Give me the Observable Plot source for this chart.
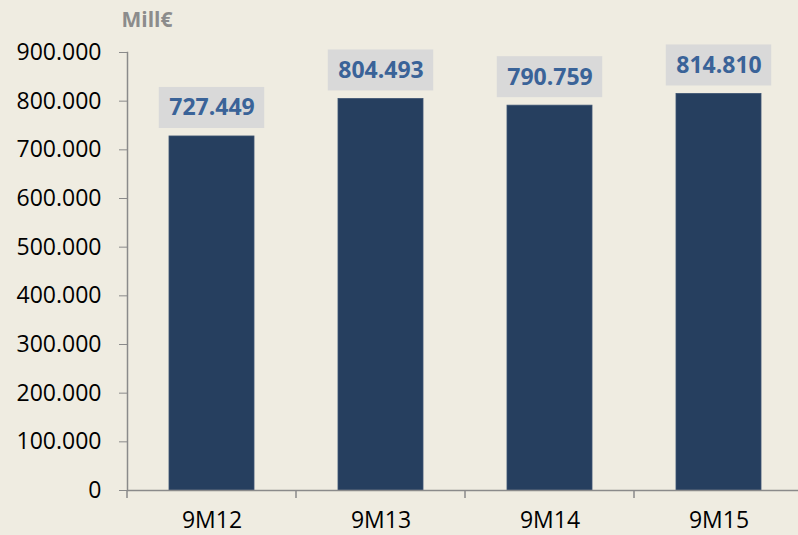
<!DOCTYPE html>
<html>
<head>
<meta charset="utf-8">
<script src="https://cdn.jsdelivr.net/npm/d3@7"></script>
<script src="https://cdn.jsdelivr.net/npm/@observablehq/plot@0.6"></script>
<style>
  html, body { margin: 0; padding: 0; background: #EFECE1; }
  #chart { width: 798px; height: 535px; }
</style>
</head>
<body>
<div id="chart"></div>
<script>
const categories = ["9M12", "9M13", "9M14", "9M15"];
const values = [727449, 804493, 790759, 814810];
const yTicks = [0, 100000, 200000, 300000, 400000, 500000, 600000, 700000, 800000, 900000];
const unitLabel = "Mill€";

const data = categories.map((c, i) => ({cat: c, value: values[i]}));
const locale = d3.formatLocale({decimal: ",", thousands: ".", grouping: [3], currency: ["", "€"]});
const fmt = locale.format(",d");

const AXIS = "#8a8a8a";

function boundaryTicks(index, scales) {
  const sx = scales.x;
  const step = typeof sx.step === "function" ? sx.step() : (sx(categories[1]) - sx(categories[0]));
  const bw = typeof sx.bandwidth === "function" ? sx.bandwidth() : step / 2;
  const y0 = scales.y(0);
  const g = d3.create("svg:g").attr("stroke", AXIS).attr("stroke-width", 1.5);
  const xs = categories.map(c => sx(c) - (step - bw) / 2);
  xs.push(sx(categories[categories.length - 1]) + bw + (step - bw) / 2);
  for (const x of xs) {
    g.append("line").attr("x1", x).attr("x2", x).attr("y1", y0).attr("y2", y0 + 8);
  }
  return g.node();
}

const chart = Plot.plot({
  width: 798,
  height: 535,
  marginLeft: 127,
  marginRight: 0,
  marginTop: 52,
  marginBottom: 45,
  style: {background: "#EFECE1", fontFamily: "'Open Sans', sans-serif", fontSize: "23px", color: "black"},
  x: {domain: categories, range: [127, 803], paddingInner: 0.5, paddingOuter: 0.25, align: 0.5},
  y: {domain: [0, 900000]},
  marks: [
    Plot.barY(data, {x: "cat", y: "value", fill: "#263F5F", stroke: "#3d5472", strokeWidth: 0.8}),
    Plot.barY(data, {x: "cat", y1: "value", y2: "value", fill: "#D9D9D9",
      insetTop: -49, insetBottom: 8, insetLeft: -10.25, insetRight: -10.25}),
    Plot.text(data, {x: "cat", y: "value", text: d => fmt(d.value), dy: -28.5,
      lineAnchor: "middle", fill: "#3A6398", fontWeight: "bold", fontSize: 23}),
    Plot.axisY({ticks: yTicks, tickSize: 8, tickPadding: 18, tickFormat: fmt,
      stroke: AXIS, fill: "black", fontSize: 23, label: null}),
    Plot.axisX({tickSize: 0, tickPadding: 21, fill: "black", fontSize: 23, label: null}),
    Plot.frame({anchor: "left", stroke: AXIS, strokeWidth: 1.5}),
    Plot.ruleY([0], {stroke: AXIS, strokeWidth: 1.5}),
    boundaryTicks,
    Plot.text([unitLabel], {frameAnchor: "top-left", textAnchor: "start", dx: -6, dy: -32.5, lineAnchor: "middle",
      fill: "#8C8C8C", fontWeight: "bold", fontSize: 21})
  ]
});
document.getElementById("chart").append(chart);
</script>
</body>
</html>
